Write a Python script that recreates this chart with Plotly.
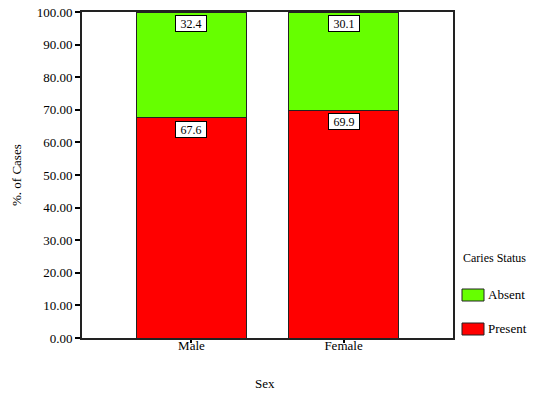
import plotly.graph_objects as go

categories = ["Male", "Female"]
present = [67.6, 69.9]
absent = [32.4, 30.1]
present_labels = ["67.6", "69.9"]
absent_labels = ["32.4", "30.1"]
tick_vals = [0, 10, 20, 30, 40, 50, 60, 70, 80, 90, 100]
tick_text = ["0.00", "10.00", "20.00", "30.00", "40.00", "50.00", "60.00", "70.00", "80.00", "90.00", "100.00"]
legend_names = ["Absent", "Present"]

FONT = "Liberation Serif, Times New Roman, DejaVu Serif, serif"
GREEN = "#66FF00"
RED = "#FF0000"
COLORS = {"Absent": GREEN, "Present": RED}

# page has an 8px body margin; the visible figure spans page x 8..529, y 8..398
OFF = 8
W, H = 537 - 2 * OFF, 398 - OFF
ml, mr, mt, mb = 82 - OFF, (537 - OFF) - 453, 12 - OFF, 398 - 338
pw, ph = W - ml - mr, H - mt - mb

def px(x):
    return (x - OFF - ml) / pw

def py(y):
    return (H - (y - OFF) - mb) / ph

fig = go.Figure()
fig.add_trace(go.Bar(x=categories, y=present, name="Present",
                     marker=dict(color=RED, line=dict(color="#222222", width=1)), width=0.72))
fig.add_trace(go.Bar(x=categories, y=absent, name="Absent",
                     marker=dict(color=GREEN, line=dict(color="#222222", width=1)), width=0.72))

annotations = []
for i, c in enumerate(categories):
    for yv, lab in ((present[i], present_labels[i]), (present[i] + absent[i], absent_labels[i])):
        annotations.append(dict(x=c, y=yv, text=lab, xref="x", yref="y", showarrow=False,
                                xanchor="center", yanchor="top", yshift=-3, bgcolor="white",
                                bordercolor="black", borderwidth=1, borderpad=1, width=28, height=13,
                                font=dict(family=FONT, size=12, color="black")))

def text_ann(text, x, y, size=13, angle=0, xanchor="center"):
    return dict(text=text, x=px(x), y=py(y), xref="paper", yref="paper", showarrow=False,
                xanchor=xanchor, yanchor="middle", textangle=angle,
                font=dict(family=FONT, size=size, color="black"))

annotations.append(text_ann("%. of Cases", 16, 175, angle=-90))
annotations.append(text_ann("Sex", 265, 383))
annotations.append(text_ann("Caries Status", 494, 258, size=12))

shapes = []
leg_y = [295, 329]
for name, yc in zip(legend_names, leg_y):
    shapes.append(dict(type="rect", xref="paper", yref="paper", x0=px(462), x1=px(484),
                       y0=py(yc - 6), y1=py(yc + 6), fillcolor=COLORS[name],
                       line=dict(color="#222222", width=1)))
    annotations.append(text_ann(name, 486, yc - 1, xanchor="left"))

fig.update_layout(
    barmode="stack",
    width=W, height=H,
    margin=dict(l=ml, r=mr, t=mt, b=mb, pad=0, autoexpand=False),
    paper_bgcolor="white", plot_bgcolor="white",
    font=dict(family=FONT, size=13, color="black"),
    annotations=annotations,
    shapes=shapes,
    showlegend=False,
    xaxis=dict(range=[-0.72, 1.72], showline=True, linecolor="#222222", linewidth=2, mirror=True,
               ticks="outside", ticklen=3, tickwidth=2, tickcolor="black", showgrid=False,
               automargin=False, ticklabelstandoff=-9, tickfont=dict(family=FONT, size=13)),
    yaxis=dict(range=[0, 100], tickvals=tick_vals, ticktext=tick_text, showline=True,
               linecolor="#222222", linewidth=2, mirror=True, ticks="outside", ticklen=5,
               tickwidth=2, tickcolor="black", showgrid=False, zeroline=False,
               automargin=False, ticklabeloverflow="allow", tickfont=dict(family=FONT, size=13)),
)

fig.write_html("out.html")
